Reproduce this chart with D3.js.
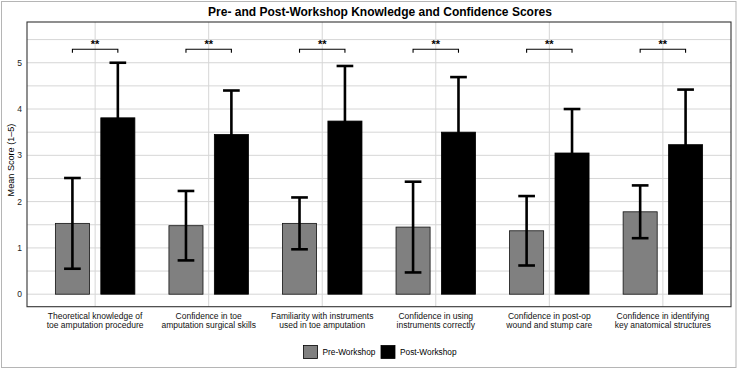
<!DOCTYPE html>
<html>
<head>
<meta charset="utf-8">
<script src="https://cdn.jsdelivr.net/npm/d3@7"></script>
<style>
  body { margin: 0; background: #fff; }
  text { font-family: "Liberation Sans", Arial, sans-serif; }
</style>
</head>
<body>
<svg id="chart" width="738" height="370"></svg>
<script>
// --- Data ---
const categories = [
  ["Theoretical knowledge of", "toe amputation procedure"],
  ["Confidence in toe", "amputation surgical skills"],
  ["Familiarity with instruments", "used in toe amputation"],
  ["Confidence in using", "instruments correctly"],
  ["Confidence in post-op", "wound and stump care"],
  ["Confidence in identifying", "key anatomical structures"]
];
const preMeans = [1.53, 1.48, 1.53, 1.45, 1.37, 1.78];
const preSD = [0.98, 0.75, 0.56, 0.98, 0.75, 0.57];
const postMeans = [3.81, 3.45, 3.74, 3.50, 3.05, 3.23];
const postSD = [1.19, 0.95, 1.19, 1.19, 0.95, 1.19];
const sigLabels = ["**", "**", "**", "**", "**", "**"];
const yTicks = [0, 1, 2, 3, 4, 5];

const svg = d3.select("#chart");
const W = 738, H = 370;
const panel = {left: 27, top: 22, right: 731, bottom: 306.7};

// outer frame
svg.append("rect")
  .attr("x", 1.5).attr("y", 1.5).attr("width", W - 3.5).attr("height", H - 4)
  .attr("fill", "#fff").attr("stroke", "#b5b5b5").attr("stroke-width", 1);

// --- Scales ---
const idx = d3.range(categories.length);
// ggplot-like discrete expansion of 0.6 units on each side
const x = d3.scalePoint().domain(idx).range([panel.left, panel.right]).padding(0.6);
const step = x.step();
const xc = i => x(i);
const y = d3.scaleLinear().domain([-0.27, 5.88]).range([panel.bottom, panel.top]);

const barW = step * 0.3;
const dodge = step * 0.2;
const capW = 16.7;

// grid
const grid = svg.append("g");
d3.range(0, 5.51, 0.5).forEach(v => {
  grid.append("line")
    .attr("x1", panel.left).attr("x2", panel.right)
    .attr("y1", y(v)).attr("y2", y(v))
    .attr("stroke", "#d6d6d6").attr("stroke-width", 1);
});
idx.forEach(i => {
  grid.append("line")
    .attr("x1", xc(i)).attr("x2", xc(i))
    .attr("y1", panel.top).attr("y2", panel.bottom)
    .attr("stroke", "#d6d6d6").attr("stroke-width", 1);
});

// bars
const bars = svg.append("g");
idx.forEach(i => {
  bars.append("rect")
    .attr("x", xc(i) - dodge - barW / 2).attr("width", barW)
    .attr("y", y(preMeans[i])).attr("height", y(0) - y(preMeans[i]))
    .attr("fill", "#808080").attr("stroke", "#111").attr("stroke-width", 0.8);
  bars.append("rect")
    .attr("x", xc(i) + dodge - barW / 2).attr("width", barW)
    .attr("y", y(postMeans[i])).attr("height", y(0) - y(postMeans[i]))
    .attr("fill", "#000").attr("stroke", "#000").attr("stroke-width", 0.8);
});

// error bars
function errorBar(cx, m, sd) {
  const g = svg.append("g").attr("stroke", "#000").attr("stroke-width", 2.6);
  g.append("line").attr("x1", cx).attr("x2", cx).attr("y1", y(m + sd)).attr("y2", y(m - sd));
  g.append("line").attr("x1", cx - capW / 2).attr("x2", cx + capW / 2).attr("y1", y(m + sd)).attr("y2", y(m + sd));
  g.append("line").attr("x1", cx - capW / 2).attr("x2", cx + capW / 2).attr("y1", y(m - sd)).attr("y2", y(m - sd));
}
idx.forEach(i => {
  errorBar(xc(i) - dodge, preMeans[i], preSD[i]);
  errorBar(xc(i) + dodge, postMeans[i], postSD[i]);
});

// significance brackets
idx.forEach(i => {
  const yb = y(5.29), x1 = xc(i) - dodge, x2 = xc(i) + dodge;
  svg.append("path")
    .attr("d", `M${x1},${yb + 3.5}V${yb}H${x2}V${yb + 3.5}`)
    .attr("fill", "none").attr("stroke", "#000").attr("stroke-width", 1.1);
  svg.append("text")
    .attr("x", xc(i)).attr("y", yb - 1.5)
    .attr("text-anchor", "middle").attr("font-size", 11).attr("font-weight", "bold")
    .text(sigLabels[i]);
});

// panel border
svg.append("rect")
  .attr("x", panel.left).attr("y", panel.top)
  .attr("width", panel.right - panel.left).attr("height", panel.bottom - panel.top)
  .attr("fill", "none").attr("stroke", "#333").attr("stroke-width", 1.1);

// y axis labels
yTicks.forEach(v => {
  svg.append("text")
    .attr("x", 22).attr("y", y(v)).attr("dy", "0.35em")
    .attr("text-anchor", "end").attr("font-size", 8.5).attr("fill", "#222")
    .text(v);
});

// x axis labels
idx.forEach(i => {
  const t = svg.append("text")
    .attr("x", xc(i)).attr("y", 319)
    .attr("text-anchor", "middle").attr("font-size", 8.5).attr("fill", "#111");
  categories[i].forEach((line, k) => {
    t.append("tspan").attr("x", xc(i)).attr("dy", k === 0 ? 0 : 9.2).text(line);
  });
});

// y title
svg.append("text")
  .attr("transform", `translate(13.5,160) rotate(-90)`)
  .attr("text-anchor", "middle").attr("font-size", 9.1).attr("fill", "#000")
  .text("Mean Score (1–5)");

// title
svg.append("text")
  .attr("x", 380).attr("y", 16)
  .attr("text-anchor", "middle").attr("font-size", 12).attr("font-weight", "bold")
  .text("Pre- and Post-Workshop Knowledge and Confidence Scores");

// legend
const legend = [
  {label: "Pre-Workshop", fill: "#808080", x: 303.5},
  {label: "Post-Workshop", fill: "#000", x: 381}
];
legend.forEach(d => {
  svg.append("rect")
    .attr("x", d.x).attr("y", 345.5).attr("width", 14).attr("height", 13)
    .attr("fill", d.fill).attr("stroke", "#000").attr("stroke-width", 0.8);
  svg.append("text")
    .attr("x", d.x + 19).attr("y", 352).attr("dy", "0.35em")
    .attr("font-size", 8.3).attr("fill", "#000")
    .text(d.label);
});
</script>
</body>
</html>
